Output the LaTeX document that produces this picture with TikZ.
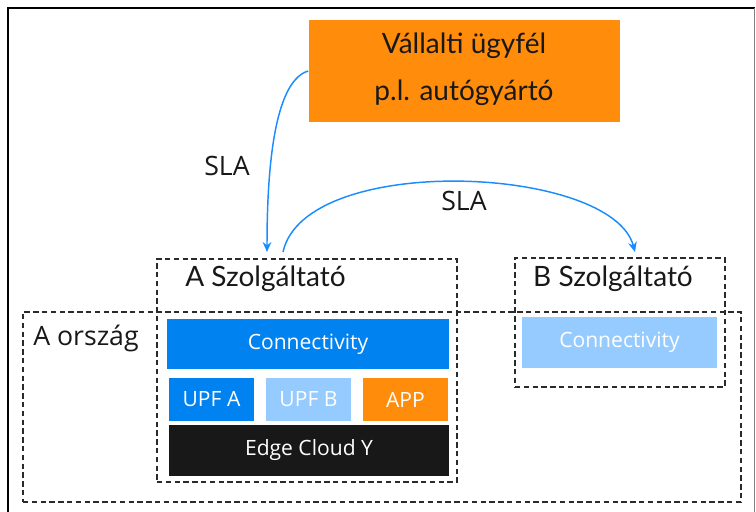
\documentclass[tikz,border=0pt]{standalone}
\usepackage{fontspec}
\usetikzlibrary{arrows.meta}
\newfontfamily\osans{Open Sans}
\newfontfamily\hilda{Lato}
\definecolor{eblue}{HTML}{0082F0}
\definecolor{elight}{HTML}{95CBFF}
\definecolor{eorange}{HTML}{FF8C0A}
\definecolor{eblack}{HTML}{181818}
\definecolor{arrowblue}{HTML}{1A8CFF}
\definecolor{dashgray}{HTML}{2A2A2A}
\tikzset{
  px/.style={x=0.75pt,y=-0.75pt},
  blk/.style={draw=none,inner sep=0pt,text=white,font=\osans\fontsize{15.8}{18}\selectfont},
  dbox/.style={draw=dashgray,line width=1pt,dash pattern=on 4pt off 2.6pt},
  hlabel/.style={inner sep=0pt,anchor=base,text=eblack,font=\hilda\fontsize{21}{24}\selectfont},
  olabel/.style={inner sep=0pt,anchor=base,text=eblack,font=\osans\fontsize{20}{24}\selectfont},
  sla/.style={draw=arrowblue,line width=1.1pt,-{Stealth[length=7.5pt,width=6.5pt]}}
}
\begin{document}
\begin{tikzpicture}[px]
\useasboundingbox (0,0) rectangle (756,511);
% outer frame
\draw[black,line width=0.9pt] (8,520) -- (8,8) -- (754.5,8);
\draw[gray,line width=0.9pt] (754.5,8) -- (754.5,520);
% customer
\node[draw=none,fill=eorange,inner sep=0pt,minimum width=311*0.75pt,minimum height=102*0.75pt] (cust) at (464,71) {};
\node[hlabel] (cust1) at (464,53) {Vállalti ügyfél};
\node[hlabel] (cust2) at (464,100) {p.l. autógyártó};
% dashed regions
\node[dbox,inner sep=0pt,minimum width=718*0.75pt,minimum height=190*0.75pt] (orsz) at (382,407) {};
\node[dbox,inner sep=0pt,minimum width=300*0.75pt,minimum height=223*0.75pt] (abox) at (307,370.5) {};
\node[dbox,inner sep=0pt,minimum width=210*0.75pt,minimum height=129*0.75pt] (bbox) at (620,322.5) {};
\node[olabel,anchor=base west] (orszl) at (33,345) {A ország};
\node[hlabel] (alabel) at (265.5,286) {A Szolgáltató};
\node[hlabel] (blabel) at (613,286) {B Szolgáltató};
% blocks
\node[blk,fill=eblue,minimum width=282*0.75pt,minimum height=50*0.75pt] (conA) at (308,344) {Connectivity};
\node[blk,fill=eblue,minimum width=85*0.75pt,minimum height=43*0.75pt] (upfa) at (211.5,399.5) {UPF A};
\node[blk,fill=elight,minimum width=85*0.75pt,minimum height=43*0.75pt] (upfb) at (308.5,399.5) {UPF B};
\node[blk,fill=eorange,minimum width=85*0.75pt,minimum height=43*0.75pt] (app) at (405.5,399.5) {APP};
\node[blk,fill=eblack,minimum width=280*0.75pt,minimum height=51*0.75pt] (edge) at (309,450.5) {Edge Cloud Y};
\node[blk,fill=elight,minimum width=195*0.75pt,minimum height=51*0.75pt] (conB) at (619.5,342.5) {Connectivity};
% SLA arrows
\coordinate (e1) at (267,252);
\coordinate (s2) at (283,252);
\coordinate (e2) at (635,252);
\draw[sla] (cust.west) .. controls (278,80) and (267,150) .. (e1);
\draw[sla] (s2) .. controls (305,152) and (612,165) .. (e2);
\node[olabel] (sla1) at (227,175) {SLA};
\node[olabel] (sla2) at (464,210) {SLA};
\end{tikzpicture}
\end{document}
